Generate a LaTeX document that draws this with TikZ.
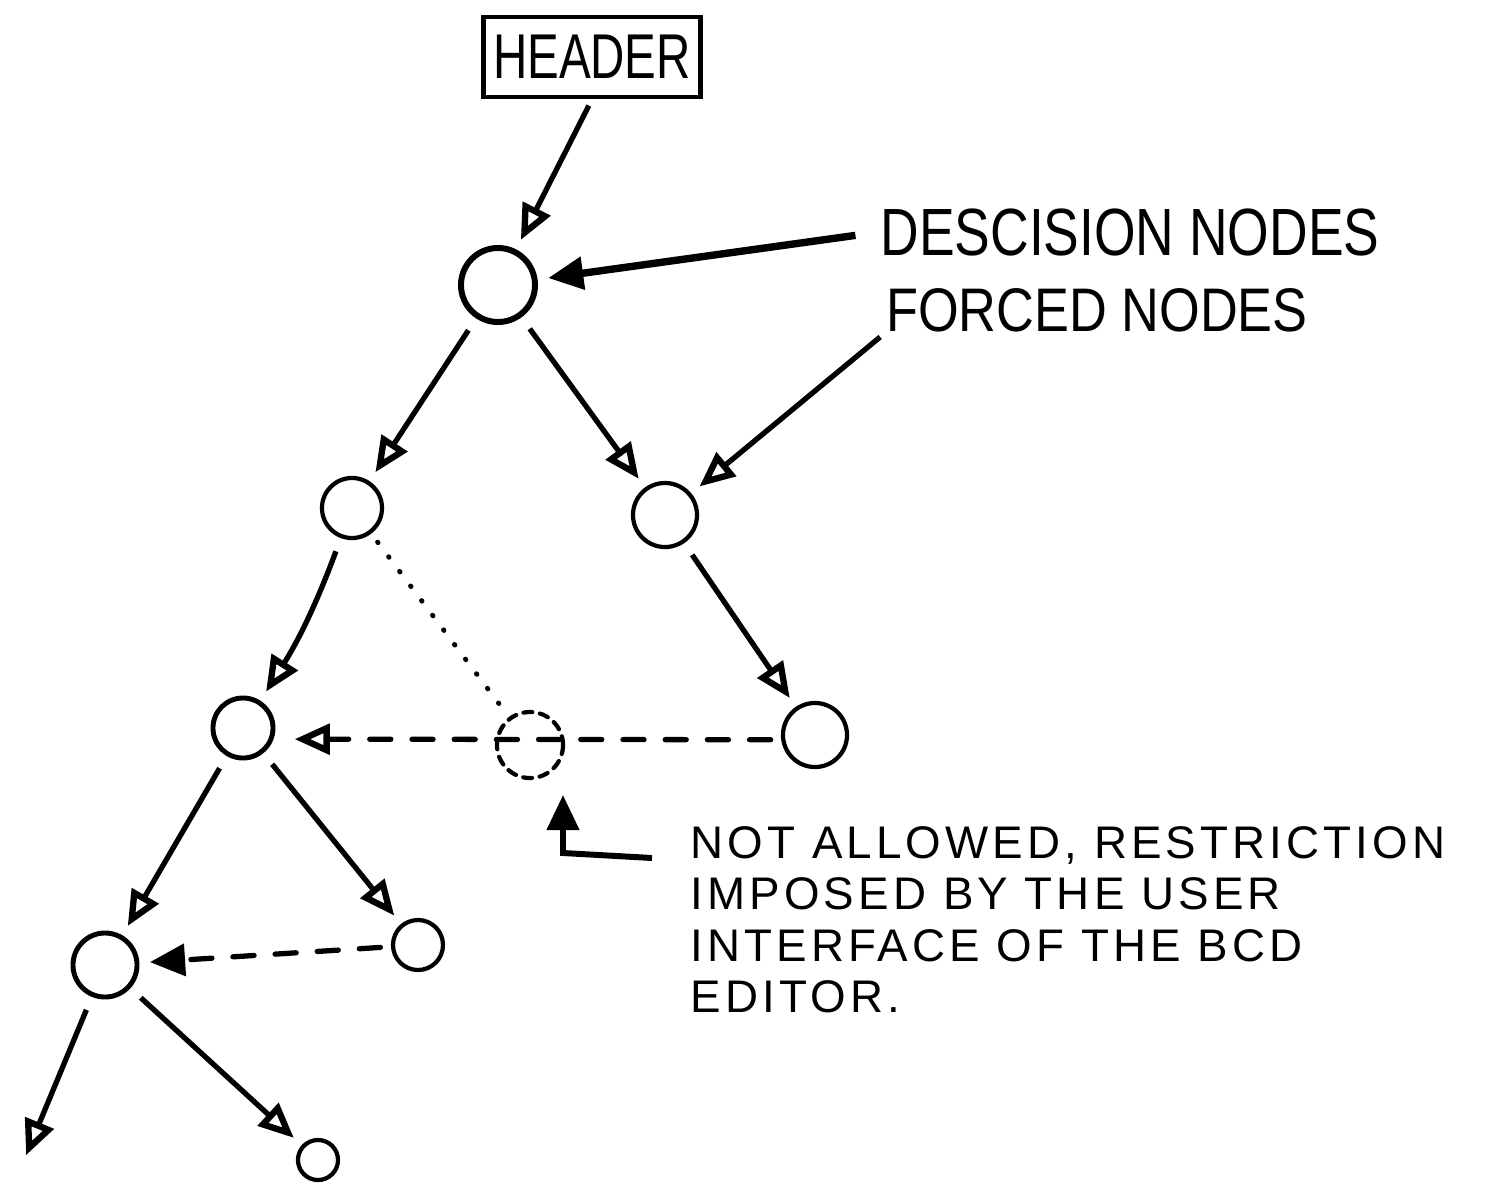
\documentclass[tikz,border=0pt]{standalone}
\usepackage{fontspec}
\setmainfont{Liberation Sans}
\usetikzlibrary{arrows.meta}
\begin{document}
\begin{tikzpicture}[x=0.01cm,y=-0.01cm,
  nd/.style={circle,draw,line width=1.2pt,inner sep=0pt},
  ghost/.style={circle,draw,line width=1.2pt,inner sep=0pt,dash pattern=on 2.5pt off 2.2pt,line cap=round},
  otip/.tip={Triangle[open,length=10pt,width=8.5pt,line width=1.8pt]},
  ftip/.tip={Triangle[length=10pt,width=9pt]},
  con/.style={line width=1.5pt,-otip,shorten <=4pt,shorten >=3pt},
  fcon/.style={line width=1.5pt,-ftip,shorten <=4pt,shorten >=3pt},
  dashcon/.style={line width=1.5pt,dash pattern=on 6pt off 6pt,line cap=round},
  dotcon/.style={line width=1.4pt,dash pattern=on 0.2pt off 5pt,line cap=round},
  lbl/.style={inner sep=0pt,align=left}]
\useasboundingbox (0,0) rectangle (1505,1187);

% header
\node[draw,line width=1.3pt,minimum width=2.17cm,minimum height=0.8cm,inner sep=0pt] (header) at (592,57)
  {\fontsize{18}{18}\selectfont\scalebox{0.75}[1]{HEADER}};

% tree nodes
\node[nd,line width=1.7pt,minimum size=0.74cm] (root) at (498,285) {};
\node[nd,minimum width=0.56cm,minimum height=0.60cm] (lc) at (352,508) {};
\node[nd,minimum size=0.64cm] (rc) at (665,515) {};
\node[nd,line width=1.4pt,minimum size=0.60cm] (ll) at (243,728) {};
\node[ghost,minimum size=0.66cm] (dc) at (530,745) {};
\node[nd,minimum size=0.64cm] (r3) at (815,735) {};
\node[nd,line width=1.4pt,minimum size=0.64cm] (l4) at (105,965) {};
\node[nd,minimum size=0.50cm] (l4r) at (418,945) {};
\node[nd,minimum size=0.40cm] (l5r) at (318,1160) {};
\coordinate (l5l) at (22,1165);

% labels
\node[lbl] (dlabel) at (1130,232) {\fontsize{19}{19}\selectfont\scalebox{0.8}[1]{DESCISION NODES}};
\node[lbl] (flabel) at (1097,310) {\fontsize{17.5}{17.5}\selectfont\scalebox{0.85}[1]{FORCED NODES}};
\node[lbl,anchor=north west,font={\fontsize{13}{14.6}\selectfont\addfontfeature{LetterSpace=9}}] (nlabel) at (690,826)
  {NOT ALLOWED, RESTRICTION\\ IMPOSED BY THE USER\\ INTERFACE OF THE BCD\\ EDITOR.};

\coordinate (ntail) at (652,858);
\coordinate (nbend) at (563,853);
\coordinate (ntip) at (563,795);

% connectors
\draw[con,shorten <=2pt] (header.south) -- (root);
\draw[fcon,line width=2.1pt,shorten <=7pt] (dlabel.west) -- (root);
\draw[con,shorten <=2pt] (flabel.south west) -- (rc);
\draw[con] (root) -- (lc);
\draw[con] (root) -- (rc);
\draw[con] (lc) to[bend left=6] (ll);
\draw[con] (rc) -- (r3);
\draw[dotcon,shorten <=3pt] (lc) -- (dc);
\draw[dashcon,-otip,shorten >=6pt,shorten <=3pt] (r3.188) -- (ll.-20);
\draw[con] (ll) -- (l4);
\draw[con] (ll) -- (l4r);
\draw[dashcon,-ftip,shorten >=3pt,shorten <=3pt] (l4r) -- (l4);
\draw[con] (l4) -- (l5l);
\draw[con] (l4) -- (l5r);
\draw[line width=1.7pt,-ftip] (ntail) -- (nbend) -- (ntip);
\end{tikzpicture}
\end{document}
